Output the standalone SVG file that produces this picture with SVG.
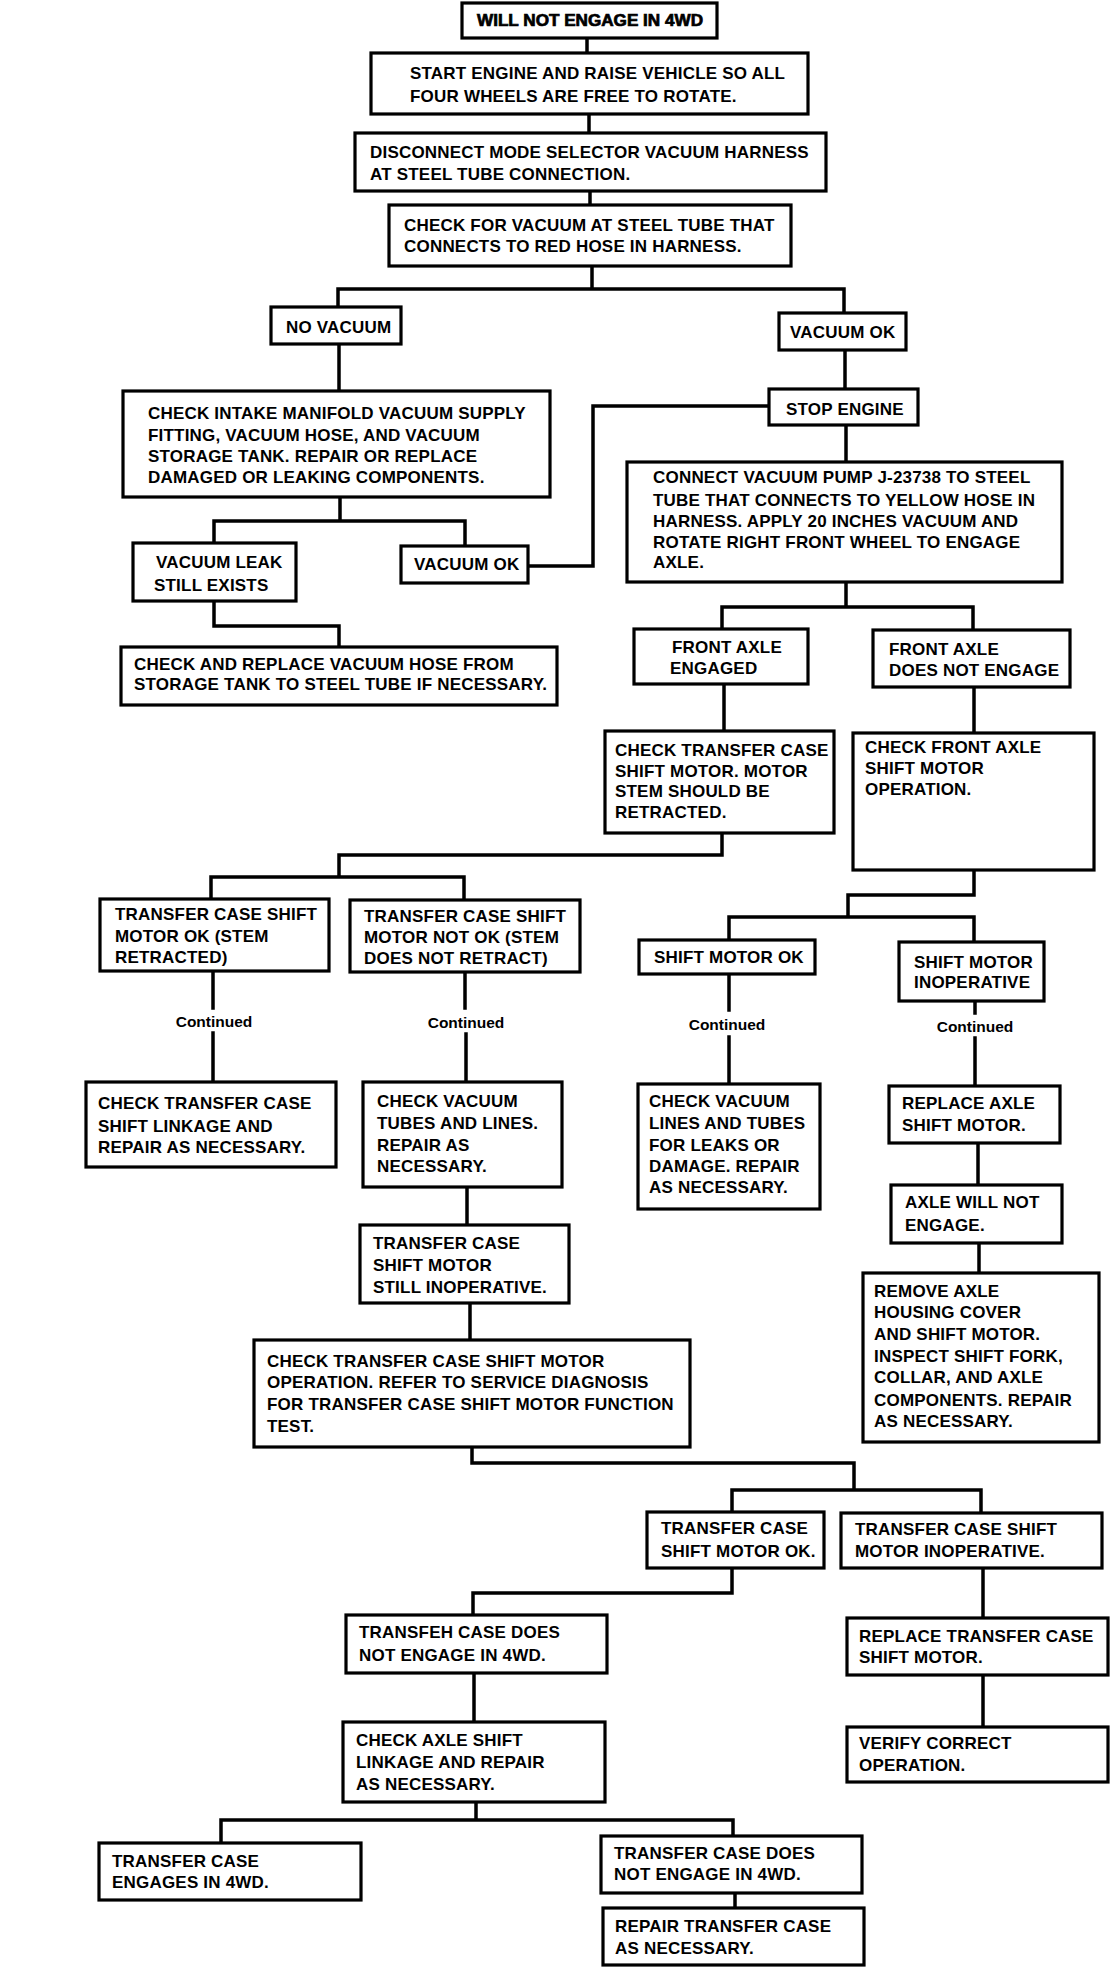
<svg xmlns="http://www.w3.org/2000/svg" width="1120" height="1968" viewBox="0 0 1120 1968">
<style>
.b{fill:#fff;stroke:#000;stroke-width:3.2}
.c{fill:none;stroke:#000;stroke-width:3.5;stroke-linecap:square;stroke-linejoin:miter}
.t{font-family:"Liberation Sans",Arial,Helvetica,sans-serif;font-weight:bold;font-size:17px;letter-spacing:0.2px;fill:#000}
.ttl{font-family:"Liberation Sans",Arial,Helvetica,sans-serif;font-weight:bold;font-size:16px;fill:#000;stroke:#000;stroke-width:0.7}
.k{font-family:"Liberation Sans",Arial,Helvetica,sans-serif;font-weight:bold;font-size:15.5px;fill:#000;text-anchor:middle}
</style>
<rect x="0" y="0" width="1120" height="1968" fill="#fff"/>
<g id="connectors">
<path class="c" d="M587,38V53"/>
<path class="c" d="M589,114V133"/>
<path class="c" d="M590,191V205"/>
<path class="c" d="M592,266V289M338,307V289H844V313"/>
<path class="c" d="M339,344V391"/>
<path class="c" d="M845,350V389"/>
<path class="c" d="M340,497V521M214,543V521H465V546"/>
<path class="c" d="M528,566H593V406H769"/>
<path class="c" d="M214,601V626H339V647"/>
<path class="c" d="M846,425V462"/>
<path class="c" d="M846,582V607M722,629V607H973V630"/>
<path class="c" d="M724,684V731"/>
<path class="c" d="M974,687V733"/>
<path class="c" d="M722,833V855H339V877M211,899V877H464V900"/>
<path class="c" d="M974,870V895H848V917M729,940V917H974V942"/>
<path class="c" d="M213,971V1008M213,1033V1082"/>
<path class="c" d="M465,972V1008M466,1034V1082"/>
<path class="c" d="M729,974V1010M729,1037V1084"/>
<path class="c" d="M975,1001V1013M975,1038V1086"/>
<path class="c" d="M978,1143V1185"/>
<path class="c" d="M979,1243V1273"/>
<path class="c" d="M467,1187V1225"/>
<path class="c" d="M470,1303V1340"/>
<path class="c" d="M472,1447V1463H854V1490M732,1512V1490H981V1513"/>
<path class="c" d="M732,1568V1593H473V1615"/>
<path class="c" d="M983,1568V1618"/>
<path class="c" d="M474,1673V1722"/>
<path class="c" d="M983,1675V1727"/>
<path class="c" d="M476,1802V1820M221,1843V1820H733V1836"/>
<path class="c" d="M735,1893V1908"/>
<text class="k" x="214" y="1027">Continued</text>
<text class="k" x="466" y="1028">Continued</text>
<text class="k" x="727" y="1030">Continued</text>
<text class="k" x="975" y="1032">Continued</text>
</g>
<g id="n_title"><rect class="b" x="462" y="3" width="255" height="35"/><text class="ttl" x="477" y="26" textLength="226" lengthAdjust="spacingAndGlyphs">WILL NOT ENGAGE IN 4WD</text></g>
<g id="n_start"><rect class="b" x="371" y="53" width="437" height="61"/><text class="t"><tspan x="410" y="79">START ENGINE AND RAISE VEHICLE SO ALL</tspan><tspan x="410" y="102">FOUR WHEELS ARE FREE TO ROTATE.</tspan></text></g>
<g id="n_disconnect"><rect class="b" x="355" y="133" width="471" height="58"/><text class="t"><tspan x="370" y="158">DISCONNECT MODE SELECTOR VACUUM HARNESS</tspan><tspan x="370" y="180">AT STEEL TUBE CONNECTION.</tspan></text></g>
<g id="n_checkvac"><rect class="b" x="389" y="205" width="402" height="61"/><text class="t"><tspan x="404" y="231">CHECK FOR VACUUM AT STEEL TUBE THAT</tspan><tspan x="404" y="252">CONNECTS TO RED HOSE IN HARNESS.</tspan></text></g>
<g id="n_novac"><rect class="b" x="271" y="307" width="130" height="37"/><text class="t" x="286" y="333">NO VACUUM</text></g>
<g id="n_vacok1"><rect class="b" x="779" y="313" width="127" height="37"/><text class="t" x="790" y="338">VACUUM OK</text></g>
<g id="n_stop"><rect class="b" x="769" y="389" width="149" height="36"/><text class="t" x="786" y="415">STOP ENGINE</text></g>
<g id="n_intake"><rect class="b" x="123" y="391" width="427" height="106"/><text class="t"><tspan x="148" y="419">CHECK INTAKE MANIFOLD VACUUM SUPPLY</tspan><tspan x="148" y="441">FITTING, VACUUM HOSE, AND VACUUM</tspan><tspan x="148" y="462">STORAGE TANK. REPAIR OR REPLACE</tspan><tspan x="148" y="483">DAMAGED OR LEAKING COMPONENTS.</tspan></text></g>
<g id="n_leak"><rect class="b" x="133" y="543" width="163" height="58"/><text class="t"><tspan x="156" y="568">VACUUM LEAK</tspan><tspan x="154" y="591">STILL EXISTS</tspan></text></g>
<g id="n_vacok2"><rect class="b" x="401" y="546" width="127" height="37"/><text class="t" x="414" y="570">VACUUM OK</text></g>
<g id="n_replacehose"><rect class="b" x="121" y="647" width="436" height="58"/><text class="t"><tspan x="134" y="670">CHECK AND REPLACE VACUUM HOSE FROM</tspan><tspan x="134" y="690">STORAGE TANK TO STEEL TUBE IF NECESSARY.</tspan></text></g>
<g id="n_pump"><rect class="b" x="627" y="462" width="435" height="120"/><text class="t"><tspan x="653" y="483">CONNECT VACUUM PUMP J-23738 TO STEEL</tspan><tspan x="653" y="506">TUBE THAT CONNECTS TO YELLOW HOSE IN</tspan><tspan x="653" y="527">HARNESS. APPLY 20 INCHES VACUUM AND</tspan><tspan x="653" y="548">ROTATE RIGHT FRONT WHEEL TO ENGAGE</tspan><tspan x="653" y="568">AXLE.</tspan></text></g>
<g id="n_fae"><rect class="b" x="634" y="629" width="174" height="55"/><text class="t"><tspan x="672" y="653">FRONT AXLE</tspan><tspan x="670" y="674">ENGAGED</tspan></text></g>
<g id="n_fadne"><rect class="b" x="873" y="630" width="197" height="57"/><text class="t"><tspan x="889" y="655">FRONT AXLE</tspan><tspan x="889" y="676">DOES NOT ENGAGE</tspan></text></g>
<g id="n_checktcsm"><rect class="b" x="605" y="731" width="229" height="102"/><text class="t"><tspan x="615" y="756">CHECK TRANSFER CASE</tspan><tspan x="615" y="777">SHIFT MOTOR. MOTOR</tspan><tspan x="615" y="797">STEM SHOULD BE</tspan><tspan x="615" y="818">RETRACTED.</tspan></text></g>
<g id="n_checkfasm"><rect class="b" x="853" y="733" width="241" height="137"/><text class="t"><tspan x="865" y="753">CHECK FRONT AXLE</tspan><tspan x="865" y="774">SHIFT MOTOR</tspan><tspan x="865" y="795">OPERATION.</tspan></text></g>
<g id="n_tcsmok"><rect class="b" x="100" y="899" width="229" height="72"/><text class="t"><tspan x="115" y="920">TRANSFER CASE SHIFT</tspan><tspan x="115" y="942">MOTOR OK (STEM</tspan><tspan x="115" y="963">RETRACTED)</tspan></text></g>
<g id="n_tcsmnok"><rect class="b" x="350" y="900" width="230" height="72"/><text class="t"><tspan x="364" y="922">TRANSFER CASE SHIFT</tspan><tspan x="364" y="943">MOTOR NOT OK (STEM</tspan><tspan x="364" y="964">DOES NOT RETRACT)</tspan></text></g>
<g id="n_smok"><rect class="b" x="639" y="940" width="176" height="34"/><text class="t" x="654" y="963">SHIFT MOTOR OK</text></g>
<g id="n_smi"><rect class="b" x="899" y="942" width="145" height="59"/><text class="t"><tspan x="914" y="968">SHIFT MOTOR</tspan><tspan x="914" y="988">INOPERATIVE</tspan></text></g>
<g id="n_ctcsl"><rect class="b" x="86" y="1082" width="250" height="85"/><text class="t"><tspan x="98" y="1109">CHECK TRANSFER CASE</tspan><tspan x="98" y="1132">SHIFT LINKAGE AND</tspan><tspan x="98" y="1153">REPAIR AS NECESSARY.</tspan></text></g>
<g id="n_cvtl"><rect class="b" x="363" y="1082" width="199" height="105"/><text class="t"><tspan x="377" y="1107">CHECK VACUUM</tspan><tspan x="377" y="1129">TUBES AND LINES.</tspan><tspan x="377" y="1151">REPAIR AS</tspan><tspan x="377" y="1172">NECESSARY.</tspan></text></g>
<g id="n_cvlt"><rect class="b" x="638" y="1084" width="182" height="125"/><text class="t"><tspan x="649" y="1107">CHECK VACUUM</tspan><tspan x="649" y="1129">LINES AND TUBES</tspan><tspan x="649" y="1151">FOR LEAKS OR</tspan><tspan x="649" y="1172">DAMAGE. REPAIR</tspan><tspan x="649" y="1193">AS NECESSARY.</tspan></text></g>
<g id="n_rasm"><rect class="b" x="889" y="1086" width="171" height="57"/><text class="t"><tspan x="902" y="1109">REPLACE AXLE</tspan><tspan x="902" y="1131">SHIFT MOTOR.</tspan></text></g>
<g id="n_awne"><rect class="b" x="891" y="1185" width="171" height="58"/><text class="t"><tspan x="905" y="1208">AXLE WILL NOT</tspan><tspan x="905" y="1231">ENGAGE.</tspan></text></g>
<g id="n_remove"><rect class="b" x="863" y="1273" width="236" height="169"/><text class="t"><tspan x="874" y="1297">REMOVE AXLE</tspan><tspan x="874" y="1318">HOUSING COVER</tspan><tspan x="874" y="1340">AND SHIFT MOTOR.</tspan><tspan x="874" y="1362">INSPECT SHIFT FORK,</tspan><tspan x="874" y="1383">COLLAR, AND AXLE</tspan><tspan x="874" y="1406">COMPONENTS. REPAIR</tspan><tspan x="874" y="1427">AS NECESSARY.</tspan></text></g>
<g id="n_tcsmsi"><rect class="b" x="360" y="1225" width="209" height="78"/><text class="t"><tspan x="373" y="1249">TRANSFER CASE</tspan><tspan x="373" y="1271">SHIFT MOTOR</tspan><tspan x="373" y="1293">STILL INOPERATIVE.</tspan></text></g>
<g id="n_ctcsmo"><rect class="b" x="254" y="1340" width="436" height="107"/><text class="t"><tspan x="267" y="1367">CHECK TRANSFER CASE SHIFT MOTOR</tspan><tspan x="267" y="1388">OPERATION. REFER TO SERVICE DIAGNOSIS</tspan><tspan x="267" y="1410">FOR TRANSFER CASE SHIFT MOTOR FUNCTION</tspan><tspan x="267" y="1432">TEST.</tspan></text></g>
<g id="n_tcsmok2"><rect class="b" x="647" y="1512" width="177" height="56"/><text class="t"><tspan x="661" y="1534">TRANSFER CASE</tspan><tspan x="661" y="1557">SHIFT MOTOR OK.</tspan></text></g>
<g id="n_tcsmi2"><rect class="b" x="841" y="1513" width="261" height="55"/><text class="t"><tspan x="855" y="1535">TRANSFER CASE SHIFT</tspan><tspan x="855" y="1557">MOTOR INOPERATIVE.</tspan></text></g>
<g id="n_tcdne"><rect class="b" x="346" y="1615" width="261" height="58"/><text class="t"><tspan x="359" y="1638">TRANSFEH CASE DOES</tspan><tspan x="359" y="1661">NOT ENGAGE IN 4WD.</tspan></text></g>
<g id="n_rtcsm"><rect class="b" x="847" y="1618" width="261" height="57"/><text class="t"><tspan x="859" y="1642">REPLACE TRANSFER CASE</tspan><tspan x="859" y="1663">SHIFT MOTOR.</tspan></text></g>
<g id="n_casl"><rect class="b" x="343" y="1722" width="262" height="80"/><text class="t"><tspan x="356" y="1746">CHECK AXLE SHIFT</tspan><tspan x="356" y="1768">LINKAGE AND REPAIR</tspan><tspan x="356" y="1790">AS NECESSARY.</tspan></text></g>
<g id="n_vco"><rect class="b" x="847" y="1727" width="261" height="55"/><text class="t"><tspan x="859" y="1749">VERIFY CORRECT</tspan><tspan x="859" y="1771">OPERATION.</tspan></text></g>
<g id="n_tcei4"><rect class="b" x="99" y="1843" width="262" height="57"/><text class="t"><tspan x="112" y="1867">TRANSFER CASE</tspan><tspan x="112" y="1888">ENGAGES IN 4WD.</tspan></text></g>
<g id="n_tcdne2"><rect class="b" x="601" y="1836" width="261" height="57"/><text class="t"><tspan x="614" y="1859">TRANSFER CASE DOES</tspan><tspan x="614" y="1880">NOT ENGAGE IN 4WD.</tspan></text></g>
<g id="n_rtcan"><rect class="b" x="603" y="1908" width="261" height="57"/><text class="t"><tspan x="615" y="1932">REPAIR TRANSFER CASE</tspan><tspan x="615" y="1954">AS NECESSARY.</tspan></text></g>
</svg>
